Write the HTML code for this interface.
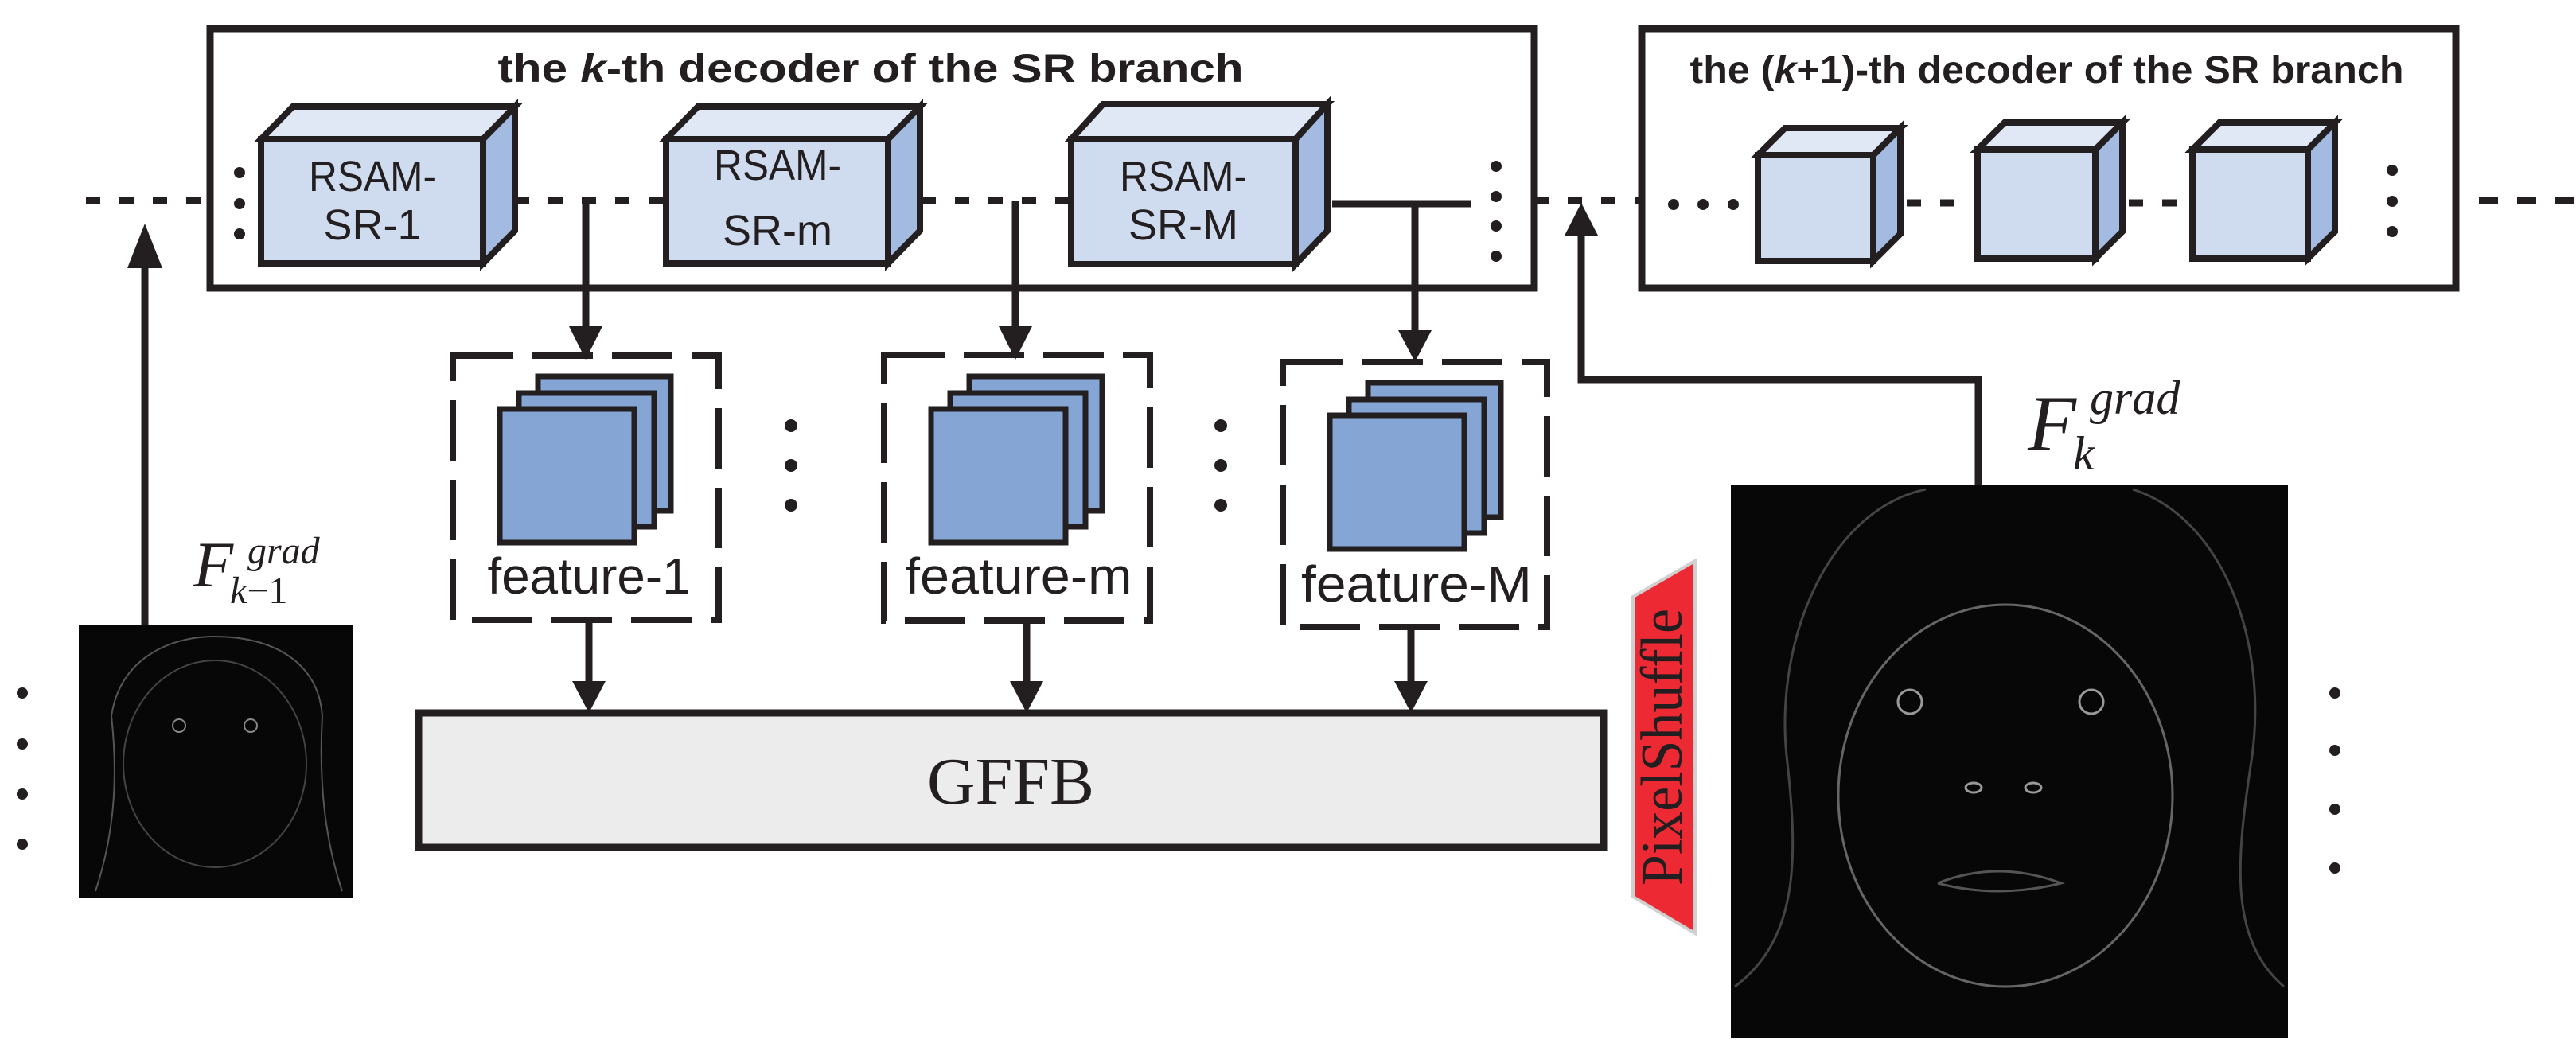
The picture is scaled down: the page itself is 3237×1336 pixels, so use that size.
<!DOCTYPE html>
<html><head><meta charset="utf-8"><style>
html,body{margin:0;padding:0;background:#fff;}
svg{display:block;}
</style></head><body>
<svg width="3237" height="1336" viewBox="0 0 3237 1336" xmlns="http://www.w3.org/2000/svg">
<g stroke="#231f20" stroke-width="9" fill="none">
<line x1="108" y1="252" x2="264" y2="252" stroke-dasharray="18 24"/>
<line x1="647" y1="252" x2="837" y2="252" stroke-dasharray="18 24"/>
<line x1="1116" y1="252" x2="1346" y2="252" stroke-dasharray="18 24"/>
<line x1="1674" y1="256" x2="1849" y2="256"/>
<line x1="1928" y1="252" x2="2063" y2="252" stroke-dasharray="18 24"/>
<line x1="2354" y1="255" x2="2485" y2="255" stroke-dasharray="18 24"/>
<line x1="2633" y1="255" x2="2755" y2="255" stroke-dasharray="18 24"/>
<line x1="3115" y1="252" x2="3237" y2="252" stroke-dasharray="24 24"/>
<rect x="264" y="36" width="1664" height="326"/>
<rect x="2063" y="36" width="1023" height="326"/>
</g>
<g fill="#231f20">
<circle cx="301" cy="217" r="7"/><circle cx="301" cy="256" r="7"/><circle cx="301" cy="294" r="7"/>
<circle cx="1880" cy="209" r="7"/><circle cx="1880" cy="247" r="7"/><circle cx="1880" cy="284" r="7"/><circle cx="1880" cy="322" r="7"/>
<circle cx="2103" cy="257" r="7"/><circle cx="2140" cy="257" r="7"/><circle cx="2178" cy="257" r="7"/>
<circle cx="3006" cy="214" r="7"/><circle cx="3006" cy="253" r="7"/><circle cx="3006" cy="291" r="7"/>
<circle cx="994" cy="535" r="8"/><circle cx="994" cy="585" r="8"/><circle cx="994" cy="635" r="8"/>
<circle cx="1534" cy="535" r="8"/><circle cx="1534" cy="585" r="8"/><circle cx="1534" cy="635" r="8"/>
<circle cx="28" cy="871" r="7"/><circle cx="28" cy="935" r="7"/><circle cx="28" cy="998" r="7"/><circle cx="28" cy="1061" r="7"/>
<circle cx="2934" cy="871" r="7"/><circle cx="2934" cy="943" r="7"/><circle cx="2934" cy="1017" r="7"/><circle cx="2934" cy="1091" r="7"/>
</g>
<text x="1094" y="103" text-anchor="middle" font-family="Liberation Sans, sans-serif" font-weight="bold" font-size="50" textLength="937" lengthAdjust="spacingAndGlyphs" fill="#231f20">the <tspan font-style="italic">k</tspan>-th decoder of the SR branch</text>
<text x="2572" y="104" text-anchor="middle" font-family="Liberation Sans, sans-serif" font-weight="bold" font-size="48" textLength="897" lengthAdjust="spacingAndGlyphs" fill="#231f20">the (<tspan font-style="italic">k</tspan>+1)-th decoder of the SR branch</text>
<g stroke="#231f20" stroke-width="8" stroke-linejoin="miter">
<g>
<polygon points="328,175 368,134 647,134 607,175" fill="#e1e8f5"/>
<polygon points="607,175 647,134 647,290 607,331" fill="#a3bbe0"/>
<rect x="328" y="175" width="279" height="156" fill="#cfdcef"/>
</g>
<g>
<polygon points="837,175 877,134 1156,134 1116,175" fill="#e1e8f5"/>
<polygon points="1116,175 1156,134 1156,290 1116,331" fill="#a3bbe0"/>
<rect x="837" y="175" width="279" height="156" fill="#cfdcef"/>
</g>
<g>
<polygon points="1346,175 1386,131 1668,131 1628,175" fill="#e1e8f5"/>
<polygon points="1628,175 1668,131 1668,290 1628,332" fill="#a3bbe0"/>
<rect x="1346" y="175" width="282" height="157" fill="#cfdcef"/>
</g>
<g>
<polygon points="2209,195 2243,161 2388,161 2354,195" fill="#e1e8f5"/>
<polygon points="2354,195 2388,161 2388,294 2354,328" fill="#a3bbe0"/>
<rect x="2209" y="195" width="145" height="133" fill="#cfdcef"/>
</g>
<g>
<polygon points="2485,188 2519,154 2667,154 2633,188" fill="#e1e8f5"/>
<polygon points="2633,188 2667,154 2667,291 2633,325" fill="#a3bbe0"/>
<rect x="2485" y="188" width="148" height="137" fill="#cfdcef"/>
</g>
<g>
<polygon points="2755,188 2789,154 2934,154 2900,188" fill="#e1e8f5"/>
<polygon points="2900,188 2934,154 2934,291 2900,325" fill="#a3bbe0"/>
<rect x="2755" y="188" width="145" height="137" fill="#cfdcef"/>
</g>
</g>
<g font-family="Liberation Sans, sans-serif" font-size="54" fill="#231f20" text-anchor="middle">
<text x="468" y="240" textLength="160" lengthAdjust="spacingAndGlyphs">RSAM-</text><text x="468" y="301">SR-1</text>
<text x="977" y="226" textLength="160" lengthAdjust="spacingAndGlyphs">RSAM-</text><text x="977" y="308">SR-m</text>
<text x="1487" y="240" textLength="160" lengthAdjust="spacingAndGlyphs">RSAM-</text><text x="1487" y="301">SR-M</text>
</g>
<g stroke="#231f20" stroke-width="9">
<line x1="736" y1="252" x2="736" y2="420"/>
<line x1="1276" y1="252" x2="1276" y2="420"/>
<line x1="1778" y1="256" x2="1778" y2="420"/>
<line x1="740" y1="780" x2="740" y2="860"/>
<line x1="1290" y1="780" x2="1290" y2="860"/>
<line x1="1773" y1="788" x2="1773" y2="860"/>
<line x1="182" y1="786" x2="182" y2="300"/>
<polyline points="2486,609 2486,477 1987,477 1987,290" fill="none"/>
</g>
<g fill="#231f20">
<polygon points="715,410 757,410 736,452"/>
<polygon points="1255,410 1297,410 1276,452"/>
<polygon points="1757,415 1799,415 1778,455"/>
<polygon points="719,856 761,856 740,896"/>
<polygon points="1269,856 1311,856 1290,896"/>
<polygon points="1752,856 1794,856 1773,896"/>
<polygon points="160,337 204,337 182,281"/>
<polygon points="1966,296 2008,296 1987,255"/>
</g>
<g stroke="#231f20" stroke-width="8" fill="none" stroke-dasharray="76 24">
<rect x="569" y="447" width="334" height="332"/>
<rect x="1111" y="446" width="334" height="334"/>
<rect x="1612" y="455" width="332" height="333"/>
</g>
<g stroke="#231f20" stroke-width="7" fill="#85a5d5">
<rect x="676" y="473" width="167" height="169"/><rect x="652" y="494" width="170" height="168"/><rect x="628" y="514" width="169" height="168"/>
<rect x="1218" y="473" width="167" height="169"/><rect x="1194" y="494" width="170" height="168"/><rect x="1170" y="514" width="169" height="168"/>
<rect x="1719" y="481" width="167" height="169"/><rect x="1695" y="502" width="170" height="168"/><rect x="1671" y="522" width="169" height="168"/>
</g>
<g font-family="Liberation Sans, sans-serif" font-size="64" fill="#231f20" text-anchor="middle">
<text x="740" y="746" textLength="255" lengthAdjust="spacingAndGlyphs">feature-1</text>
<text x="1280" y="746" textLength="285" lengthAdjust="spacingAndGlyphs">feature-m</text>
<text x="1780" y="756" textLength="290" lengthAdjust="spacingAndGlyphs">feature-M</text>
</g>
<rect x="526" y="896" width="1489" height="169" fill="#ececec" stroke="#231f20" stroke-width="9"/>
<text x="1270" y="1010" text-anchor="middle" font-family="Liberation Serif, serif" font-size="84" fill="#231f20">GFFB</text>
<polygon points="2052,750 2130,705 2130,1173 2052,1127" fill="#ed2a33" stroke="#d0d0d0" stroke-width="4"/>
<text transform="translate(2113,939) rotate(-90)" text-anchor="middle" font-family="Liberation Serif, serif" font-size="74" textLength="348" lengthAdjust="spacingAndGlyphs" fill="#231f20">PixelShuffle</text>
<rect x="99" y="786" width="344" height="343" fill="#070707"/>
<g fill="none" stroke="#555" stroke-width="2">
<path d="M120,1120 C140,1060 150,990 140,900 C150,830 210,800 270,800 C340,800 400,830 405,900 C400,990 410,1060 430,1120"/>
<ellipse cx="270" cy="960" rx="115" ry="130" stroke="#444"/>
<circle cx="225" cy="912" r="8" stroke="#888"/><circle cx="315" cy="912" r="8" stroke="#888"/>
</g>
<rect x="2175" y="609" width="700" height="696" fill="#070707"/>
<g fill="none" stroke="#666" stroke-width="3">
<path d="M2180,1240 C2260,1180 2260,1080 2245,950 C2230,800 2300,640 2420,615 M2870,1240 C2800,1180 2810,1080 2830,950 C2850,800 2790,650 2680,615" stroke="#444"/>
<ellipse cx="2520" cy="1000" rx="210" ry="240"/>
<circle cx="2400" cy="882" r="15" stroke="#999"/><circle cx="2628" cy="882" r="15" stroke="#999"/>
<ellipse cx="2480" cy="990" rx="10" ry="6" stroke="#999"/><ellipse cx="2555" cy="990" rx="10" ry="6" stroke="#999"/>
<path d="M2435,1110 Q2510,1080 2590,1110 Q2510,1130 2435,1110" stroke="#555"/>
</g>
<g font-family="Liberation Serif, serif" font-style="italic" fill="#231f20">
<text x="243" y="737" font-size="82">F</text>
<text x="311" y="708" font-size="48">grad</text>
<text x="289" y="758" font-size="48">k<tspan font-style="normal">−1</tspan></text>
<text x="2548" y="566" font-size="100">F</text>
<text x="2626" y="520" font-size="60">grad</text>
<text x="2605" y="590" font-size="60">k</text>
</g>
</svg>
</body></html>
